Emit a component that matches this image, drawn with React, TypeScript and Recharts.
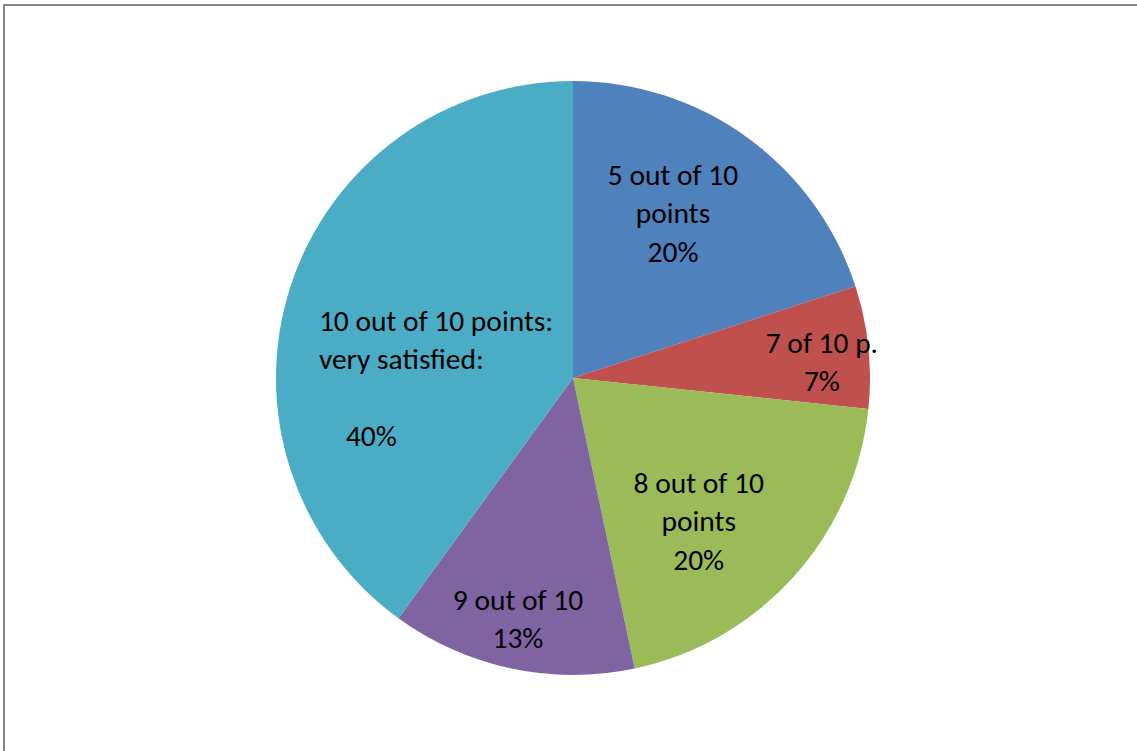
import React from "react";
import { PieChart, Pie, Cell } from "recharts";

const categories = [
  "5 out of 10 points",
  "7 of 10 p.",
  "8 out of 10 points",
  "9 out of 10",
  "10 out of 10 points: very satisfied",
];
const counts = [3, 1, 3, 2, 6];
const percentLabels = ["20%", "7%", "20%", "13%", "40%"];
const labelLines: string[][] = [
  ["5 out of 10", "points", "20%"],
  ["7 of 10 p.", "7%"],
  ["8 out of 10", "points", "20%"],
  ["9 out of 10", "13%"],
  ["10 out of 10 points:", "very satisfied:", "", "40%"],
];
const colors = ["#4F81BD", "#C0504D", "#9BBB59", "#8064A2", "#4BACC6"];

// label placement styling (fraction of radius, angle shift in degrees)
const labelRadius = [0.65, 0.84, 0.64, 0.83, 0.465];
const labelShift = [4.8, -2.1, -6.6, -0.9, 18];
const lineGap = 38.3;

const data = categories.map((name, i) => ({ name, value: counts[i], pct: percentLabels[i] }));

const RAD = Math.PI / 180;

const renderLabel = (props: any) => {
  const { cx, cy, midAngle, outerRadius, index } = props;
  const ang = midAngle + labelShift[index];
  const r = outerRadius * labelRadius[index];
  const x = cx + r * Math.cos(-ang * RAD);
  const y = cy + r * Math.sin(-ang * RAD);
  const lines = labelLines[index];
  const n = lines.length;
  const leftAligned = index === 4;
  const blockWidth = 232;
  return (
    <text
      key={`lbl-${index}`}
      x={x}
      y={y}
      fill="#000"
      fontFamily="Carlito, Calibri, Lato, sans-serif"
      fontSize={29.5}
      textAnchor={leftAligned ? "start" : "middle"}
    >
      {lines.map((ln, k) => {
        const ly = y + (k - (n - 1) / 2) * lineGap;
        let lx = leftAligned ? x - blockWidth / 2 : x;
        if (leftAligned && ln === "40%") lx += 27;
        return (
          <tspan key={k} x={lx} y={ly} dy="0.36em">
            {ln}
          </tspan>
        );
      })}
    </text>
  );
};

export default function App() {
  return (
    <div
      style={{
        position: "fixed",
        left: 0,
        top: 0,
        width: 1137,
        height: 751,
        overflow: "hidden",
        background: "#fff",
      }}
    >
      <div
        style={{
          position: "absolute",
          left: 3,
          top: 4,
          width: 1200,
          height: 800,
          borderTop: "2px solid #868686",
          borderLeft: "2px solid #868686",
        }}
      />
      <div style={{ position: "absolute", left: 0, top: 0 }}>
        <PieChart width={1137} height={751} margin={{ top: 0, right: 0, bottom: 0, left: 0 }}>
          <Pie
            data={data}
            dataKey="value"
            nameKey="name"
            cx={573}
            cy={378}
            outerRadius={297}
            startAngle={90}
            endAngle={-270}
            stroke="none"
            labelLine={false}
            label={renderLabel}
            isAnimationActive={false}
          >
            {data.map((d, i) => (
              <Cell key={d.name} fill={colors[i]} />
            ))}
          </Pie>
        </PieChart>
      </div>
    </div>
  );
}
